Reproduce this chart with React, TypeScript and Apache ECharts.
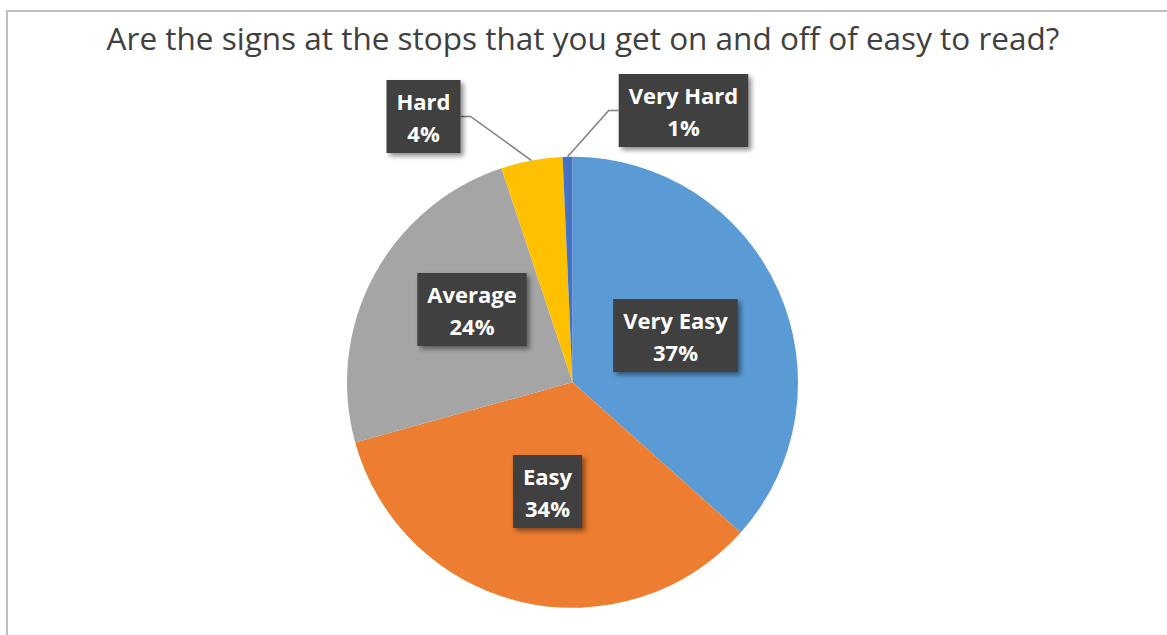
import React, { useEffect, useRef } from "react";
import * as echarts from "echarts";

const titleText = "Are the signs at the stops that you get on and off of easy to read?";
const categories = ["Very Easy", "Easy", "Average", "Hard", "Very Hard"];
const values = [36.6, 34.1, 24.2, 4.4, 0.7];
const colors = ["#5b9bd5", "#ed7d31", "#a5a5a5", "#ffc000", "#4472c4"];
const outsideLabel = [false, false, false, true, true];
// label box centres (layout only)
const labelCenters = [
  [675.5, 335.5],
  [547.5, 491.5],
  [472, 309.5],
  [423.5, 116.5],
  [683.5, 110.5],
];

export default function App() {
  const ref = useRef<HTMLDivElement>(null);
  useEffect(() => {
    if (!ref.current) return;
    const chart = echarts.init(ref.current, null, { renderer: "svg" });
    const data = categories.map((name, i) => ({
      name,
      value: values[i],
      itemStyle: { color: colors[i] },
      label: { position: outsideLabel[i] ? "outside" : "inside" },
      labelLine: { show: outsideLabel[i] },
    }));
    chart.setOption({
      animation: false,
      backgroundColor: "#ffffff",
      graphic: [
        {
          type: "rect",
          shape: { x: 7, y: 11, width: 1175, height: 640 },
          style: { fill: "none", stroke: "#bfbfbf", lineWidth: 2 },
          silent: true,
        },
        {
          type: "text",
          x: 583,
          y: 37,
          style: {
            text: titleText,
            fill: "#404040",
            font: "31.5px 'Open Sans'",
            textAlign: "center",
            textVerticalAlign: "middle",
          },
        },
      ],
      series: [
        {
          type: "pie",
          center: [572.5, 382.3],
          radius: 225.5,
          startAngle: 90,
          clockwise: true,
          avoidLabelOverlap: false,
          data,
          itemStyle: { borderWidth: 0 },
          label: {
            show: true,
            formatter: (p: any) => `${p.name}\n${Math.round(p.percent)}%`,
            color: "#ffffff",
            fontFamily: "Open Sans",
            fontWeight: "bold",
            fontSize: 22,
            lineHeight: 32,
            align: "center",
            backgroundColor: "#404040",
            padding: [5, 10, 4, 10],
            shadowColor: "rgba(0,0,0,0.45)",
            shadowBlur: 5,
            shadowOffsetX: 3,
            shadowOffsetY: 3,
          },
          labelLine: {
            length: 10,
            length2: 10,
            lineStyle: { color: "#7f7f7f", width: 1.5 },
          },
          labelLayout: (p: any) => {
            const c = labelCenters[p.dataIndex];
            return { x: c[0], y: c[1], align: "center", verticalAlign: "middle" };
          },
        },
      ],
    });
    return () => chart.dispose();
  }, []);
  return (
    <div
      ref={ref}
      style={{ position: "absolute", left: 0, top: 0, width: 1167, height: 635 }}
    />
  );
}
